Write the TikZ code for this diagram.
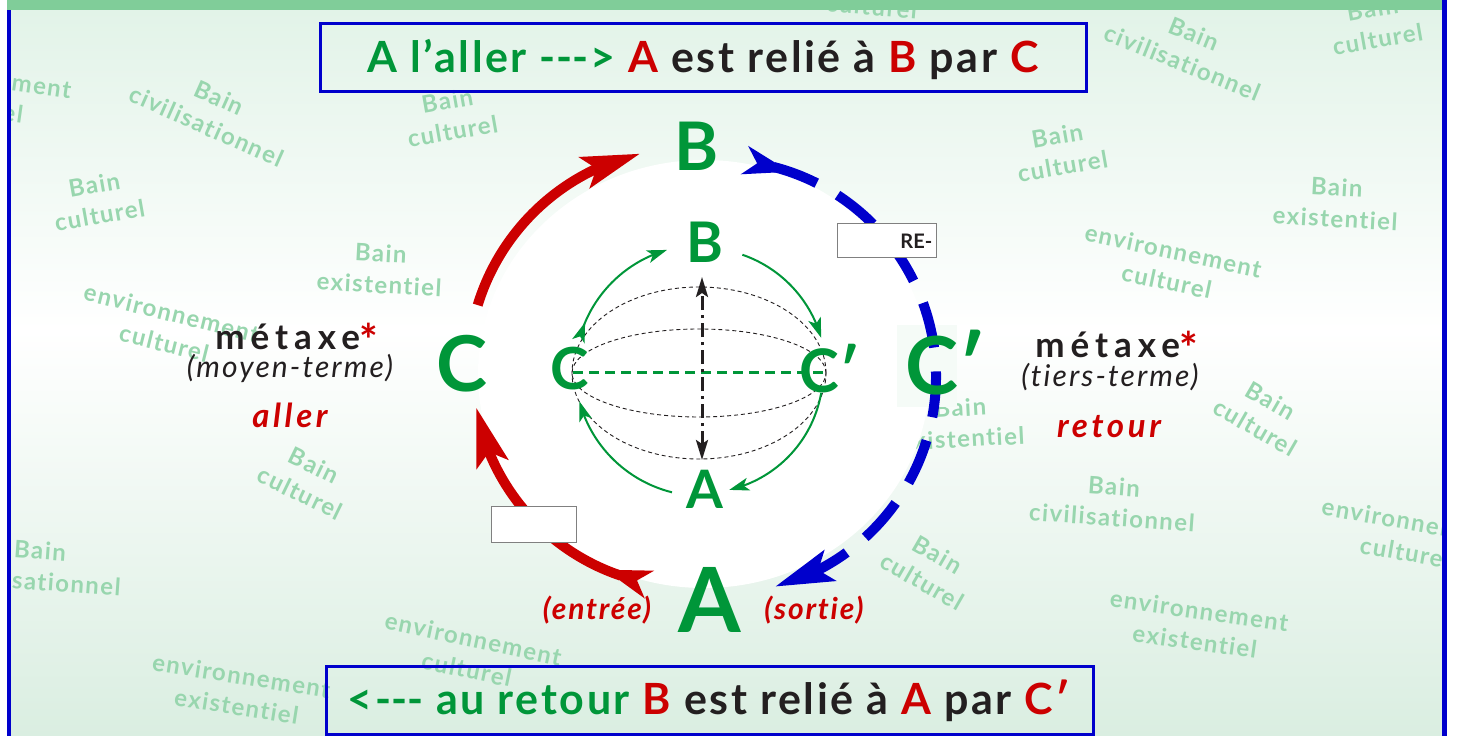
\documentclass[tikz,border=0pt]{standalone}
\usepackage{fontspec}
\setmainfont{Lato}[Ligatures={NoCommon}]
\usetikzlibrary{arrows.meta, bending, positioning, calc}

\definecolor{grn}{RGB}{0,150,57}
\definecolor{rd}{RGB}{204,0,0}
\definecolor{blu}{RGB}{0,0,204}
\definecolor{ink}{RGB}{35,31,32}
\definecolor{wm}{RGB}{152,214,174}
\definecolor{band}{RGB}{128,205,153}
\definecolor{bgtop}{RGB}{226,243,232}
\definecolor{bgbot}{RGB}{218,238,225}

\newcommand{\redstar}{{\color{rd}\fontsize{44}{44}\selectfont\raisebox{-7pt}{*}}}

\tikzset{
  wmark/.style={
    text=wm,
    align=center,
    inner sep=0pt,
    font=\bfseries\fontsize{24}{31}\selectfont\addfontfeatures{LetterSpace=6}
  },
  titlebox/.style={
    rectangle,
    draw=blu,
    line width=3pt,
    minimum height=68pt,
    inner sep=0pt
  },
  headtext/.style={
    text=ink,
    inner sep=0pt,
    font=\bfseries\fontsize{43}{43}\selectfont\addfontfeatures{LetterSpace=6}
  },
  bigl/.style={
    text=grn,
    inner sep=0pt,
    font=\bfseries\fontsize{#1}{#1}\selectfont
  },
  metaxe/.style={
    text=ink,
    inner sep=0pt,
    font=\bfseries\fontsize{35}{35}\selectfont\addfontfeatures{LetterSpace=17}
  },
  terme/.style={
    text=ink,
    inner sep=0pt,
    font=\itshape\fontsize{30}{30}\selectfont\addfontfeatures{LetterSpace=7}
  },
  sens/.style={
    text=rd,
    inner sep=0pt,
    font=\bfseries\itshape\fontsize{33}{33}\selectfont\addfontfeatures{LetterSpace=11}
  },
  passage/.style={
    text=rd,
    inner sep=0pt,
    font=\bfseries\itshape\fontsize{30}{30}\selectfont\addfontfeatures{LetterSpace=6}
  },
  blankbox/.style={
    rectangle,
    draw=black!50,
    fill=white,
    line width=1pt,
    inner sep=0pt
  },
  redarc/.style={draw=rd, line width=10pt},
  bluearc/.style={draw=blu, line width=10pt, dash pattern=on 46pt off 24pt},
  garc/.style={draw=grn, line width=2pt, -{Stealth[length=20pt, width=13pt, inset=5pt]}},
  globe/.style={draw=ink, line width=0.9pt, dash pattern=on 4pt off 3pt},
  bighead/.tip={Stealth[length=58pt, width=32pt, inset=12pt]},
  bigtail/.tip={Stealth[reversed, length=46pt, width=28pt, inset=12pt]}
}

\begin{document}
\begin{tikzpicture}[x=1pt, y=1pt]
  \useasboundingbox (0,0) rectangle (1462,736);

  % background
  \fill[white] (0,0) rectangle (1462,736);
  \shade[top color=bgtop, bottom color=white] (11,406) rectangle (1442,726);
  \shade[top color=white, bottom color=bgbot] (11,0) rectangle (1442,406);

  % watermarks
  \begin{scope}
    \clip (11,0) rectangle (1442,726);
    \foreach \x/\y/\a/\t [count=\i] in {
      -20/643/-8/{environnement\\culturel},
      213/624/-24/{Bain\\civilisationnel},
      450/620/10/{Bain\\culturel},
      97/536/10/{Bain\\culturel},
      873/745/-5/{Bain\\culturel},
      1188/688/-22/{Bain\\civilisationnel},
      1375/712/10/{Bain\\culturel},
      1060/585/10/{Bain\\culturel},
      1336/533/-3/{Bain\\existentiel},
      1170/470/-12/{environnement\\culturel},
      380/467/-3/{Bain\\existentiel},
      168/408/-14/{environnement\\culturel},
      307/257/-26/{Bain\\culturel},
      961/313/3/{Bain\\existentiel},
      1263/322/-30/{Bain\\culturel},
      1113/234/-4/{Bain\\civilisationnel},
      1408/199/-10/{environnement\\culturel},
      39/170/-4/{Bain\\civilisationnel},
      930/168/-30/{Bain\\culturel},
      470/82/-12/{environnement\\culturel},
      239/45/-9/{environnement\\existentiel},
      1197/110/-8/{environnement\\existentiel}}
      \node[wmark, rotate=\a] (wm\i) at (\x,\y) {\t};
  \end{scope}

  % white disc and backdrop of C'
  \fill[white] (704,362) ellipse[x radius=226, y radius=214];
  \fill[bgtop!35!white] (897,329) rectangle (957,411);

  % outer arcs
  \coordinate (rc) at (690,366);
  \coordinate (bc) at (719,359);
  \draw[redarc, {bigtail}-{bighead}] ([shift={(259:217)}]rc) arc[start angle=259, end angle=190, radius=217];
  \draw[redarc, -{bighead}] ([shift={(163:222)}]rc) arc[start angle=163, end angle=103, radius=222];
  \draw[bluearc, {bigtail}-{bighead}] ([shift={(83:217)}]bc) arc[start angle=83, end angle=-75, radius=217];

  % inner globe
  \coordinate (gc) at (702,364);
  \coordinate (oc) at (699,363);
  \coordinate (eqL) at (573,363);
  \coordinate (eqR) at (826,363);
  \coordinate (axT) at (702,459);
  \coordinate (axB) at (702,276);
  \draw[globe] (oc) ellipse[x radius=127, y radius=86];
  \draw[globe] (oc) ellipse[x radius=127, y radius=44];
  \draw[grn, line width=3pt, dash pattern=on 10pt off 6pt] (eqL) -- (eqR);
  \draw[ink, line width=3pt, dash pattern=on 14pt off 5pt on 3pt off 5pt,
        {Stealth[length=20pt, width=12pt, inset=4pt]}-{Stealth[length=20pt, width=12pt, inset=4pt]}] (axB) -- (axT);
  \draw[garc, {Stealth[reversed, length=20pt, width=13pt, inset=5pt]}-{Stealth[length=20pt, width=13pt, inset=5pt]}]
    ([shift={(166:127)}]gc) arc[start angle=166, end angle=106, radius=127];
  \draw[garc] ([shift={(71:124)}]gc) arc[start angle=71, end angle=16, radius=124];
  \draw[garc] ([shift={(-10:121)}]gc) arc[start angle=-10, end angle=-77, radius=121];
  \draw[garc] ([shift={(256:124)}]gc) arc[start angle=256, end angle=195, radius=128];

  % boxes on the arcs
  \node[blankbox, minimum width=85pt, minimum height=36pt] (blank) at (533.5,211) {};
  \node[blankbox, minimum width=99pt, minimum height=34pt] (rebox) at (886.5,495) {};
  \node[anchor=east, inner sep=0pt, text=ink, font=\bfseries\fontsize{20}{20}\selectfont] (retxt) at ($(rebox.east)+(-4,0)$) {RE-};

  % letters
  \node[bigl=67] (bigB) at (697,590) {B};
  \node[bigl=77] (bigC) at (462,372) {C};
  \node[bigl=90] (bigA) at (710,136) {A};
  \node[bigl=80] (bigCp) at (946,373) {C′};
  \node[bigl=56] (smB) at (705,494) {B};
  \node[bigl=58] (smC) at (570,367) {C};
  \node[bigl=53] (smA) at (705,247) {A};
  \node[bigl=60] (smCp) at (830,367) {C′};

  % side texts
  \node[metaxe, anchor=base] (metL) at (297,386) {métaxe\redstar};
  \node[terme, anchor=base] (moyen) at (290,358) {(moyen-terme)};
  \node[sens, anchor=base] (aller) at (290,308) {aller};
  \node[metaxe, anchor=base] (metR) at (1117,378) {métaxe\redstar};
  \node[terme, anchor=base] (tiers) at (1110,349) {(tiers-terme)};
  \node[sens, anchor=base] (retour) at (1109,298) {retour};
  \node[passage, anchor=base] (entree) at (597,116) {(entrée)};
  \node[passage, anchor=base] (sortie) at (814,116) {(sortie)};

  % frame
  \fill[band] (7,726) rectangle (1442,736);
  \fill[blu] (7,0) rectangle (11,726);
  \fill[blu] (1442,0) rectangle (1447,736);

  % titles
  \node[titlebox, minimum width=766pt] (topbox) at (703,678) {};
  \node[headtext, anchor=base] (toptxt) at (703,663)
    {{\color{grn}A l’aller -\kern0pt-\kern0pt-> }{\color{rd}A} est relié à {\color{rd}B} par {\color{rd}C}};
  \node[titlebox, minimum width=767pt] (botbox) at (709.5,35) {};
  \node[headtext, anchor=base] (bottxt) at (709,21)
    {{\color{grn}<-\kern0pt-\kern0pt- au retour }{\color{rd}B} est relié à {\color{rd}A} par {\color{rd}C′}};
\end{tikzpicture}
\end{document}
